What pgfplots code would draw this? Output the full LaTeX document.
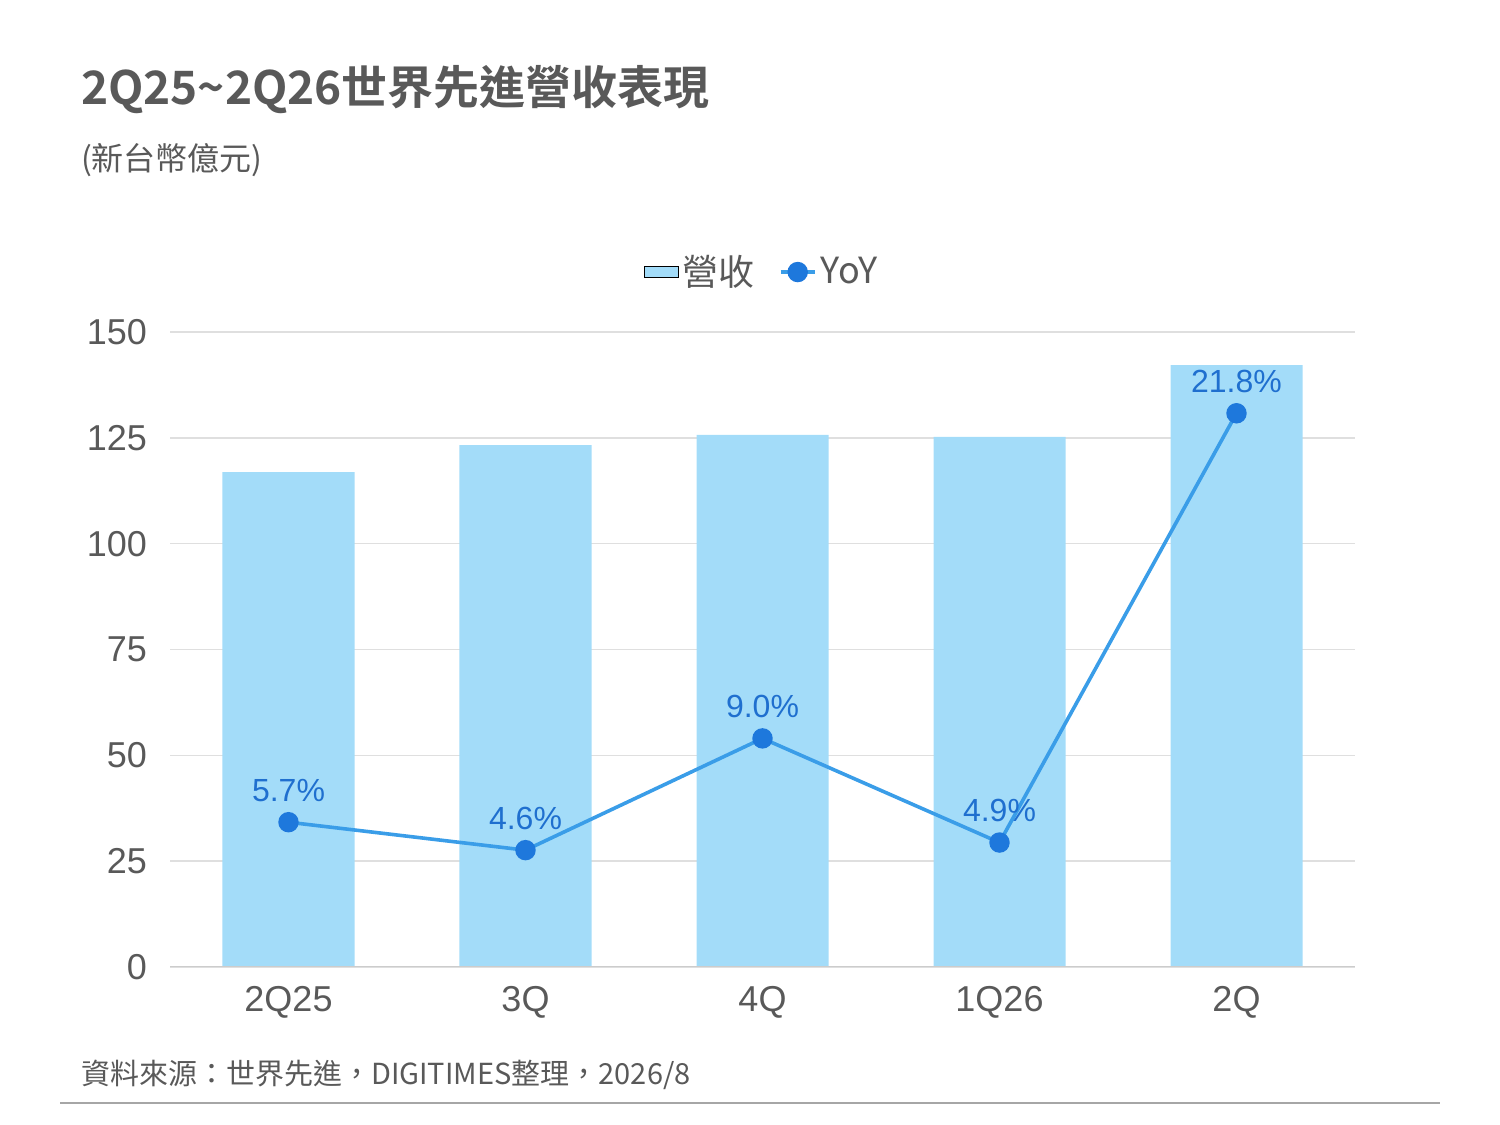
\documentclass[border=0pt]{standalone}
\usepackage{pgfplots}
\pgfplotsset{compat=1.18}
\usepackage{fontspec}
\setmainfont{Liberation Sans}
\newfontfamily\cjk{Noto Sans CJK TC}
\newfontfamily\cjkb{Noto Sans CJK TC Bold}
\definecolor{bar}{HTML}{A3DCF9}
\definecolor{ln}{HTML}{3A9DE8}
\definecolor{mk}{HTML}{1E78DC}
\definecolor{lab}{HTML}{1F6FCF}
\definecolor{gr}{HTML}{595959}
\begin{document}
\begin{tikzpicture}[x=0.5pt,y=0.5pt]
\path (0,0) rectangle (1500,1125);
\node[anchor=west,text=gr,font=\cjkb\fontsize{23}{26}\selectfont] at (74,1035) {2Q25\char"007E 2Q26世界先進營收表現};
\node[anchor=west,text=gr,font=\cjk\fontsize{16}{19}\selectfont] at (74,965) {(新台幣億元)};
\node[anchor=west,text=gr,font=\cjk\fontsize{14.5}{17}\selectfont] at (74,50) {資料來源：世界先進，DIGITIMES整理，2026/8};
\draw[gray!70,line width=0.8pt] (60,22) -- (1440,22);
\begin{axis}[at={(85pt,79pt)},anchor=south west,scale only axis,width=592.5pt,height=317.5pt,
 xmin=-0.5,xmax=4.5,ymin=0,ymax=150,ytick={0,25,...,150},
 xtick={0,...,4},xticklabels={2Q25,3Q,4Q,1Q26,2Q},
 axis line style={draw=none},y axis line style={draw=none},
 x axis line style={draw=gray!40},
 tick style={draw=none},
 ymajorgrids,grid style={gray!25,line width=0.8pt},
 ticklabel style={font=\fontsize{18}{20}\selectfont,text=gr},
 /pgf/number format/assume math mode=true,
 yticklabel style={xshift=-8pt},xticklabel style={yshift=-6pt},
 axis on top=false]
\addplot[ybar,bar width=0.557,fill=bar,draw=none] coordinates {(0,116.9)(1,123.3)(2,125.7)(3,125.2)(4,142.2)};
\draw[gray!40,line width=0.8pt] (axis cs:-0.5,0) -- (axis cs:4.5,0);
\end{axis}
\begin{axis}[at={(85pt,79pt)},anchor=south west,scale only axis,width=592.5pt,height=317.5pt,
 xmin=-0.5,xmax=4.5,ymin=0,ymax=25,axis lines=none,
 legend style={at={(0.5,1.055)},anchor=south,draw=none,fill=none,legend columns=2,
   font=\cjk\fontsize{18}{20}\selectfont,text=gr,/tikz/every even column/.append style={column sep=10pt}},
 legend cell align=left]
\addlegendimage{area legend,fill=bar,draw=none}
\addlegendentry{營收}
\addplot[ln,line width=1.8pt,mark=*,mark size=4.2pt,mark options={fill=mk,draw=mk},
 nodes near coords,point meta=explicit symbolic,
 every node near coord/.append style={text=lab,font=\fontsize{16}{18}\selectfont,yshift=6pt}]
 coordinates {(0,5.7)[5.7\%] (1,4.6)[4.6\%] (2,9.0)[9.0\%] (3,4.9)[4.9\%] (4,21.8)[21.8\%]};
\addlegendentry{YoY}
\end{axis}
\end{tikzpicture}
\end{document}
